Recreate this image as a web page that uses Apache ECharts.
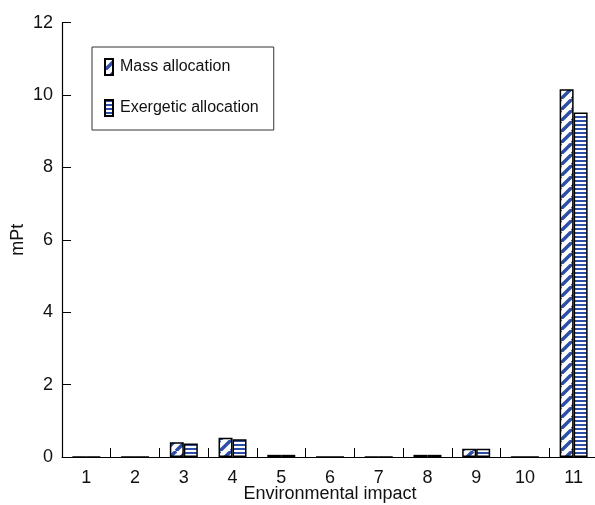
<!DOCTYPE html>
<html>
<head>
<meta charset="utf-8">
<script src="https://cdn.jsdelivr.net/npm/echarts@6/dist/echarts.min.js"></script>
<style>html,body{margin:0;padding:0;background:#fff;}#c{width:595px;height:505px;}</style>
</head>
<body>
<div id="c"></div>
<script>
var categories = ['1','2','3','4','5','6','7','8','9','10','11'];
var massAllocation = [0, 0, 0.41, 0.53, 0.06, 0, 0, 0.06, 0.23, 0, 10.16];
var exergeticAllocation = [0, 0, 0.37, 0.49, 0.06, 0, 0, 0.06, 0.23, 0, 9.52];
var seriesNames = ['Mass allocation', 'Exergetic allocation'];

var BLUE = '#2d4ea6';
function diagPattern() {
  var n = 11;
  var c = document.createElement('canvas');
  c.width = n; c.height = n;
  var g = c.getContext('2d');
  g.fillStyle = '#fff'; g.fillRect(0, 0, n, n);
  g.strokeStyle = BLUE; g.lineWidth = 3.4;
  [-n, 0, n].forEach(function (k) {
    g.beginPath(); g.moveTo(k, n); g.lineTo(k + n, 0); g.stroke();
  });
  return c;
}
function horizPattern() {
  var c = document.createElement('canvas');
  c.width = 4; c.height = 4;
  var g = c.getContext('2d');
  g.fillStyle = '#fff'; g.fillRect(0, 0, 4, 4);
  g.fillStyle = BLUE; g.fillRect(0, 0, 4, 2);
  return c;
}
var FONT = '"Liberation Sans", Arial, Helvetica, sans-serif';
var chart = echarts.init(document.getElementById('c'), null, {renderer: 'canvas'});
chart.setOption({
  animation: false,
  backgroundColor: '#fff',
  grid: {left: 62, right: -3, top: 22.7, bottom: 48, containLabel: false, outerBoundsMode: 'none'},
  legend: {
    orient: 'vertical',
    left: 92, top: 47,
    padding: [11, 15, 13, 12],
    borderColor: '#333', borderWidth: 1,
    itemWidth: 8, itemHeight: 16, itemGap: 23,
    icon: 'rect',
    textStyle: {fontFamily: FONT, fontSize: 16, color: '#111', padding: [0, 0, 0, 2]},
    data: seriesNames
  },
  xAxis: {
    type: 'category',
    data: categories,
    name: 'Environmental impact',
    nameLocation: 'middle',
    nameGap: 28,
    nameMoveOverlap: false,
    nameTextStyle: {fontFamily: FONT, fontSize: 18, color: '#111'},
    axisLine: {lineStyle: {color: '#000', width: 1.2}},
    axisTick: {show: true, inside: true, length: 9, lineStyle: {color: '#000', width: 1}},
    axisLabel: {fontFamily: FONT, fontSize: 18, color: '#111', margin: 12}
  },
  yAxis: {
    type: 'value',
    min: 0, max: 12, interval: 2,
    name: 'mPt',
    nameLocation: 'middle',
    nameGap: 35,
    nameMoveOverlap: false,
    nameTextStyle: {fontFamily: FONT, fontSize: 18, color: '#111'},
    axisLine: {show: true, lineStyle: {color: '#000', width: 1.2}},
    axisTick: {show: true, inside: true, length: 9, lineStyle: {color: '#000'}},
    splitLine: {show: false},
    axisLabel: {fontFamily: FONT, fontSize: 18, color: '#111', margin: 9}
  },
  series: [
    {
      name: seriesNames[0], type: 'bar', data: massAllocation,
      barWidth: 14, barGap: '0%', z: 1,
      itemStyle: {color: {image: diagPattern(), repeat: 'repeat'}, borderColor: '#000', borderWidth: 1.5}
    },
    {
      name: seriesNames[1], type: 'bar', data: exergeticAllocation,
      barWidth: 14, barGap: '0%', z: 1,
      itemStyle: {color: {image: horizPattern(), repeat: 'repeat'}, borderColor: '#000', borderWidth: 1.5}
    }
  ]
});
</script>
</body>
</html>
